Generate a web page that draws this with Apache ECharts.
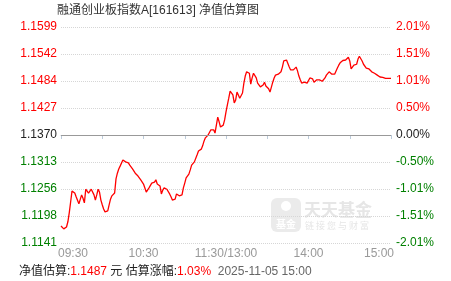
<!DOCTYPE html>
<html>
<head>
<meta charset="utf-8">
<script src="https://cdn.jsdelivr.net/npm/echarts@6/dist/echarts.min.js"></script>
<style>
html,body{margin:0;padding:0;background:#fff;}
#main{width:451px;height:281px;}
</style>
</head>
<body>
<div id="main"></div>
<script>
// ---- data ----
const chartTitle = '融通创业板指数A[161613] 净值估算图';
const baseNav = 1.1370;
const navRange = 0.0229;
const leftTickLabels = ['1.1599','1.1542','1.1484','1.1427','1.1370','1.1313','1.1256','1.1198','1.1141'];
const rightTickLabels = ['2.01%','1.51%','1.01%','0.50%','0.00%','-0.50%','-1.01%','-1.51%','-2.01%'];
const xTickLabels = ['09:30','10:30','11:30/13:00','14:00','15:00'];
const navValues = [
1.1177,1.1173,1.1171,1.1171,1.1175,1.1186,1.1205,1.1228,1.1251,1.1253,
1.1247,1.1239,1.1239,1.1224,1.1224,1.1243,1.1236,1.1226,1.1255,1.1251,
1.1247,1.1251,1.1255,1.1253,1.1243,1.1232,1.1243,1.1255,1.1249,1.1232,
1.1222,1.1213,1.1207,1.1211,1.1209,1.1222,1.1234,1.1241,1.1245,1.1247,
1.1277,1.1289,1.1298,1.1304,1.1306,1.1317,1.1315,1.1313,1.1313,1.1311,
1.1306,1.1302,1.1298,1.1294,1.1289,1.1285,1.1283,1.1281,1.1275,1.1272,
1.1266,1.1262,1.1249,1.1251,1.1258,1.1262,1.1268,1.1272,1.1270,1.1275,
1.1266,1.1264,1.1262,1.1245,1.1253,1.1258,1.1258,1.1255,1.1251,1.1245,
1.1239,1.1232,1.1230,1.1234,1.1245,1.1243,1.1241,1.1239,1.1243,1.1258,
1.1268,1.1279,1.1283,1.1287,1.1296,1.1306,1.1308,1.1313,1.1317,1.1328,
1.1336,1.1336,1.1340,1.1347,1.1357,1.1364,1.1368,1.1370,1.1374,1.1381,
1.1385,1.1381,1.1374,1.1370,1.1408,1.1398,1.1387,1.1389,1.1391,1.1402,
1.1419,1.1434,1.1448,1.1463,1.1461,1.1455,1.1438,1.1444,1.1461,1.1457,
1.1448,1.1448,1.1459,1.1480,1.1495,1.1504,1.1501,1.1501,1.1478,1.1491,
1.1501,1.1504,1.1491,1.1480,1.1476,1.1472,1.1470,1.1476,1.1482,1.1474,
1.1472,1.1468,1.1461,1.1461,1.1482,1.1491,1.1497,1.1499,1.1499,1.1501,
1.1504,1.1514,1.1527,1.1529,1.1529,1.1525,1.1514,1.1508,1.1506,1.1508,
1.1512,1.1514,1.1506,1.1495,1.1487,1.1480,1.1478,1.1482,1.1484,1.1480,
1.1484,1.1491,1.1491,1.1489,1.1482,1.1482,1.1487,1.1487,1.1487,1.1487,
1.1484,1.1487,1.1491,1.1497,1.1501,1.1504,1.1501,1.1499,1.1499,1.1499,
1.1501,1.1512,1.1518,1.1523,1.1526,1.1528,1.1529,1.1529,1.1531,1.1535,
1.1527,1.1510,1.1514,1.1518,1.1516,1.1520,1.1531,1.1537,1.1535,1.1527,
1.1520,1.1516,1.1512,1.1512,1.1510,1.1508,1.1504,1.1501,1.1501,1.1499,
1.1497,1.1495,1.1493,1.1489,1.1492,1.1490,1.1490,1.1490,1.1490,1.1490,
1.1490
];
const navEstimate = '1.1487';
const changePct = '1.03%';
const stamp = '2025-11-05 15:00';

// ---- chart ----
const FONT = '"Liberation Sans", "Noto Sans CJK SC", sans-serif';
const step = navRange / 4;
const chart = echarts.init(document.getElementById('main'), null, {renderer: 'canvas'});
const labelRich = {
  r: {color: '#ff0000', fontSize: 12, fontFamily: FONT},
  k: {color: '#222222', fontSize: 12, fontFamily: FONT},
  g: {color: '#008000', fontSize: 12, fontFamily: FONT}
};
function tickIndex(v) { return Math.round((navRange - v) / step); }
function cls(k) { return k < 4 ? 'r' : (k === 4 ? 'k' : 'g'); }

chart.setOption({
  animation: false,
  backgroundColor: '#ffffff',
  title: {
    text: chartTitle,
    left: 57, top: 5, padding: 0,
    textStyle: {fontSize: 12, fontWeight: 'normal', color: '#333', fontFamily: FONT}
  },
  grid: {left: 61, right: 60, top: 27, bottom: 38},
  xAxis: {
    type: 'value', min: 0, max: 240, interval: 30,
    axisLine: {show: true, lineStyle: {color: '#bccbda', width: 1}},
    axisTick: {show: true, length: 4, lineStyle: {color: '#bccbda'}},
    splitLine: {show: false},
    axisLabel: {
      margin: 5,
      color: '#999', fontSize: 12, fontFamily: FONT,
      formatter: function (v) {
        if (v % 60 !== 0) return '';
        const i = v / 60;
        if (i === 0) return '{f|' + xTickLabels[i] + '}';
        if (i === xTickLabels.length - 1) return '{l|' + xTickLabels[i] + '}';
        return xTickLabels[i];
      },
      rich: {
        f: {color: '#999', fontSize: 12, fontFamily: FONT, padding: [0, 0, 0, 24]},
        l: {color: '#999', fontSize: 12, fontFamily: FONT, padding: [0, 24, 0, 0]}
      }
    }
  },
  yAxis: [
    {
      type: 'value', min: -navRange, max: navRange, interval: step,
      axisLine: {show: false}, axisTick: {show: false},
      splitLine: {show: true, lineStyle: {color: '#d6d6d6', type: [1, 1], width: 1}},
      axisLabel: {
        margin: 4,
        formatter: function (v) { const k = tickIndex(v); return '{' + cls(k) + '|' + leftTickLabels[k] + '}'; },
        rich: labelRich
      }
    },
    {
      type: 'value', min: -navRange, max: navRange, interval: step, position: 'right',
      axisLine: {show: false}, axisTick: {show: false}, splitLine: {show: false},
      axisLabel: {
        margin: 5,
        formatter: function (v) { const k = tickIndex(v); return '{' + cls(k) + '|' + rightTickLabels[k] + '}'; },
        rich: labelRich
      }
    }
  ],
  series: [{
    type: 'line',
    z: 3,
    showSymbol: false,
    symbol: 'none',
    lineStyle: {color: '#ff0000', width: 1.3},
    data: navValues.map(function (v, i) { return [i, +(v - baseNav).toFixed(6)]; }),
    markLine: {
      silent: true, symbol: 'none', label: {show: false},
      lineStyle: {color: '#999', type: 'solid', width: 1},
      data: [{yAxis: 0}]
    }
  }],
  graphic: [
    {type: 'rect', z: 0, shape: {x: 271, y: 198, width: 30, height: 34, r: 6}, style: {fill: '#ebebeb'}},
    {type: 'text', z: 0, style: {x: 286, y: 224, text: '基金', fill: '#ffffff', font: 'bold 10px "Noto Sans CJK SC"', textAlign: 'center', textVerticalAlign: 'middle'}},
    {type: 'circle', z: 0, shape: {cx: 286, cy: 206, r: 5}, style: {fill: '#ffffff'}},
    {type: 'text', z: 0, style: {x: 304, y: 210, text: '天天基金', fill: '#e6e6e6', font: 'bold 17px "Noto Sans CJK SC"', textVerticalAlign: 'middle'}},
    {type: 'text', z: 0, style: {x: 305, y: 226, text: '链 接 您 与 财 富', fill: '#e6e6e6', font: '9px "Noto Sans CJK SC"', textVerticalAlign: 'middle'}},
    {
      type: 'text', left: 19, top: 266, z: 10,
      style: {
        text: '{a|净值估算:}{r|' + navEstimate + '}{a| 元 估算涨幅:}{r|' + changePct + '}{g|  ' + stamp + '}',
        rich: {
          a: {fill: '#222', fontSize: 12, fontFamily: FONT},
          r: {fill: '#ff0000', fontSize: 12, fontFamily: FONT},
          g: {fill: '#666', fontSize: 12, fontFamily: FONT}
        }
      }
    }
  ]
});
</script>
</body>
</html>
